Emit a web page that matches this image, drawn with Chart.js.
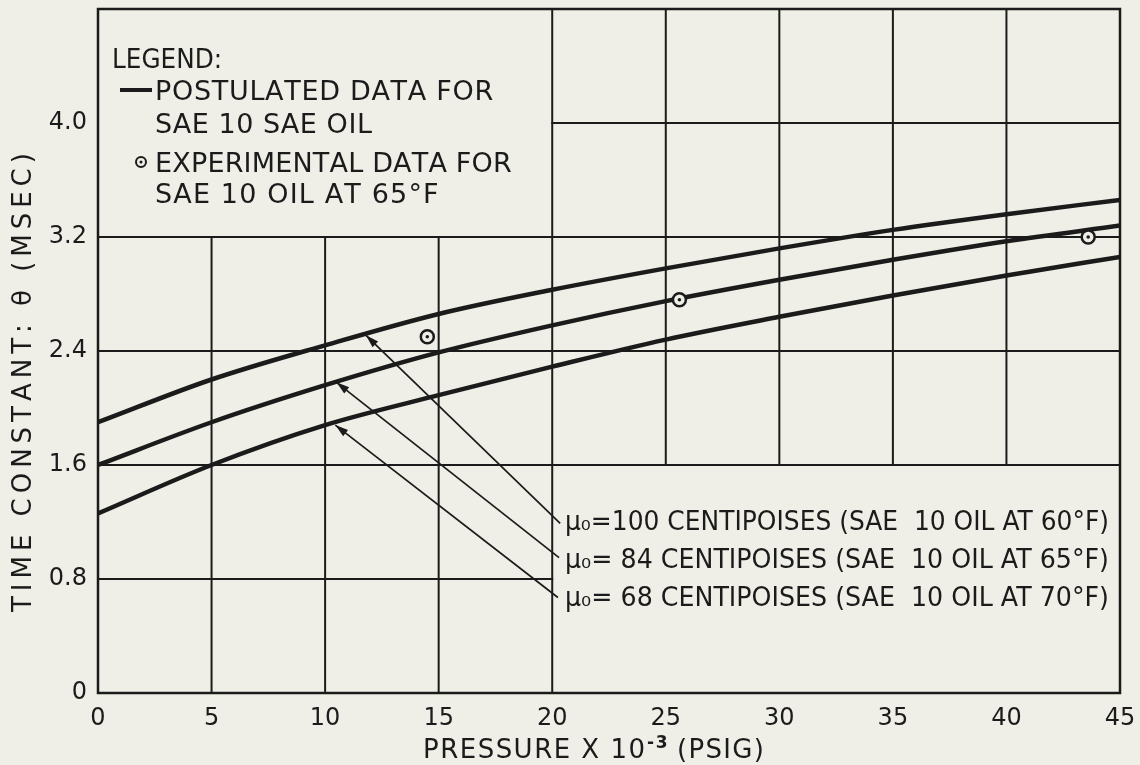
<!DOCTYPE html>
<html>
<head>
<meta charset="utf-8">
<script src="https://cdn.jsdelivr.net/npm/chart.js@4.4.1/dist/chart.umd.min.js"></script>
<style>
  html, body { margin: 0; padding: 0; background: #efefe8; }
  #c { display: block; }
</style>
</head>
<body>
<canvas id="c" width="1140" height="765"></canvas>
<script>
// ---------------- data ----------------
const xTicks = [0, 5, 10, 15, 20, 25, 30, 35, 40, 45];
const yTicks = [0, 0.8, 1.6, 2.4, 3.2, 4.0];
const pressure = [0, 5, 10, 15, 20, 25, 30, 35, 40, 45];
const theta100 = [1.90, 2.20, 2.44, 2.66, 2.83, 2.98, 3.12, 3.25, 3.36, 3.46];
const theta84  = [1.60, 1.90, 2.16, 2.39, 2.58, 2.75, 2.90, 3.04, 3.17, 3.28];
const theta68  = [1.26, 1.60, 1.88, 2.09, 2.29, 2.48, 2.64, 2.79, 2.93, 3.06];
const expPressure = [14.5, 25.6, 43.6];
const expTheta    = [2.50, 2.76, 3.20];
const arrowTailX = [20.35, 20.3, 20.25];
const arrowTailY = [1.19, 0.95, 0.67];
const arrowTipX  = [11.8, 10.5, 10.45];
const arrowTipY  = [2.51, 2.18, 1.88];
const curveLabels = [
  "μ₀=100 CENTIPOISES (SAE  10 OIL AT 60°F)",
  "μ₀= 84 CENTIPOISES (SAE  10 OIL AT 65°F)",
  "μ₀= 68 CENTIPOISES (SAE  10 OIL AT 70°F)"
];
// grid segments in data units: [x1, y1, x2, y2]
const gridSegments = [
  [5, 0, 5, 3.2], [10, 0, 10, 3.2], [15, 0, 15, 3.2], [20, 0, 20, 4.8],
  [25, 1.6, 25, 4.8], [30, 1.6, 30, 4.8], [35, 1.6, 35, 4.8], [40, 1.6, 40, 4.8],
  [0, 0.8, 20, 0.8], [0, 1.6, 45, 1.6], [0, 2.4, 45, 2.4], [0, 3.2, 45, 3.2], [20, 4.0, 45, 4.0]
];

// ---------------- style ----------------
const INK = '#1b1b1b';
const PAPER = '#efefe8';
const FONT = "'DejaVu Sans', 'Noto Sans', sans-serif";

function fitText(ctx, text, left, base, targetW) {
  const natural = ctx.measureText(text).width;
  if (natural >= targetW) {
    ctx.save();
    ctx.translate(left, base);
    ctx.scale(targetW / natural, 1);
    ctx.fillText(text, 0, 0);
    ctx.restore();
  } else {
    const chars = Array.from(text);
    const extra = (targetW - natural) / Math.max(1, chars.length - 1);
    let x = left;
    for (const ch of chars) {
      ctx.fillText(ch, x, base);
      x += ctx.measureText(ch).width + extra;
    }
  }
}

const paperPlugin = {
  id: 'paper',
  beforeDraw(chart) {
    const c = chart.ctx;
    c.save();
    c.fillStyle = PAPER;
    c.fillRect(0, 0, chart.width, chart.height);
    c.restore();
  }
};

const gridPlugin = {
  id: 'partialGrid',
  beforeDatasetsDraw(chart) {
    const c = chart.ctx, xs = chart.scales.x, ys = chart.scales.y;
    c.save();
    c.strokeStyle = INK;
    c.lineWidth = 2;
    c.lineCap = 'square';
    for (const s of gridSegments) {
      c.beginPath();
      c.moveTo(xs.getPixelForValue(s[0]), ys.getPixelForValue(s[1]));
      c.lineTo(xs.getPixelForValue(s[2]), ys.getPixelForValue(s[3]));
      c.stroke();
    }
    c.lineWidth = 2.5;
    const l = xs.getPixelForValue(0), r = xs.getPixelForValue(45);
    const t = ys.getPixelForValue(4.8), b = ys.getPixelForValue(0);
    c.strokeRect(l, t, r - l, b - t);
    c.restore();
  }
};

const annotPlugin = {
  id: 'annot',
  afterDatasetsDraw(chart) {
    const c = chart.ctx;
    c.save();
    c.fillStyle = INK;
    chart.data.datasets.forEach((ds, i) => {
      if (!ds.isArrow) return;
      const pts = chart.getDatasetMeta(i).data;
      const p0 = pts[0], p1 = pts[1];
      const ang = Math.atan2(p1.y - p0.y, p1.x - p0.x);
      const L = 13, W = 4;
      c.beginPath();
      c.moveTo(p1.x, p1.y);
      c.lineTo(p1.x - L * Math.cos(ang) + W * Math.sin(ang), p1.y - L * Math.sin(ang) - W * Math.cos(ang));
      c.lineTo(p1.x - L * Math.cos(ang) - W * Math.sin(ang), p1.y - L * Math.sin(ang) + W * Math.cos(ang));
      c.closePath();
      c.fill();
    });
    c.restore();
  },
  afterDraw(chart) {
    const c = chart.ctx;
    c.save();
    c.fillStyle = INK;
    c.strokeStyle = INK;
    c.textBaseline = 'alphabetic';
    c.textAlign = 'left';
    const cap = 0.729;
    let fs = 27;
    c.font = fs + 'px ' + FONT;
    const lg = [
      ['LEGEND:', 112, 58, 110],
      ['POSTULATED DATA FOR', 155, 90, 332],
      ['SAE 10 SAE OIL', 155, 123, 218],
      ['EXPERIMENTAL DATA FOR', 155, 162, 350],
      ['SAE 10 OIL AT 65°F', 155, 193, 282]
    ];
    for (const [t, x, y, w] of lg) fitText(c, t, x, y + cap * fs / 2, w);
    c.lineWidth = 4;
    c.beginPath(); c.moveTo(120, 90); c.lineTo(152, 90); c.stroke();
    c.lineWidth = 2;
    c.beginPath(); c.arc(141, 162, 5, 0, Math.PI * 2); c.stroke();
    c.beginPath(); c.arc(141, 162, 1.5, 0, Math.PI * 2); c.fill();

    fs = 26;
    c.font = fs + 'px ' + FONT;
    const ly = [521, 559, 597];
    curveLabels.forEach((t, i) => fitText(c, t, 565, ly[i] + cap * fs / 2, 544));

    // x axis title with superscript
    fs = 26;
    const tb = 749 + cap * fs / 2;
    const p1 = 'PRESSURE X 10', sup = '-3', p2 = ' (PSIG)';
    c.font = fs + 'px ' + FONT;
    const w1 = c.measureText(p1).width, w3 = c.measureText(p2).width;
    c.font = 'bold 17px ' + FONT;
    const w2 = c.measureText(sup).width;
    const total = 341, gap = 2;
    const scale = total / (w1 + w2 + w3 + gap);
    let x = 423;
    c.font = fs + 'px ' + FONT;
    fitText(c, p1, x, tb, w1 * scale); x += w1 * scale + gap;
    c.font = 'bold 17px ' + FONT;
    fitText(c, sup, x, tb - 10, w2 * scale); x += w2 * scale;
    c.font = fs + 'px ' + FONT;
    fitText(c, p2, x, tb, w3 * scale);

    // y axis title (rotated)
    fs = 26;
    c.font = fs + 'px ' + FONT;
    c.translate(22, 385);
    c.rotate(-Math.PI / 2);
    fitText(c, 'TIME CONSTANT: θ (MSEC)', -227, cap * fs / 2, 454);
    c.restore();
  }
};

const curve = (ys, label) => ({
  label,
  data: pressure.map((x, i) => ({ x, y: ys[i] })),
  showLine: true, borderColor: INK, borderWidth: 4.5, pointRadius: 0,
  cubicInterpolationMode: 'monotone', fill: false, order: 3
});
const arrows = arrowTailX.map((_, i) => ({
  label: 'arrow' + i, isArrow: true,
  data: [{ x: arrowTailX[i], y: arrowTailY[i] }, { x: arrowTipX[i], y: arrowTipY[i] }],
  showLine: true, borderColor: INK, borderWidth: 1.7, pointRadius: 0, tension: 0, order: 2
}));

new Chart(document.getElementById('c'), {
  type: 'scatter',
  data: {
    datasets: [
      curve(theta100, 'μ0 = 100 cP'),
      curve(theta84, 'μ0 = 84 cP'),
      curve(theta68, 'μ0 = 68 cP'),
      ...arrows,
      {
        label: 'Experimental', data: expPressure.map((x, i) => ({ x, y: expTheta[i] })),
        showLine: false, pointRadius: 6.5, pointBorderWidth: 2.5, pointBackgroundColor: PAPER,
        pointBorderColor: INK, order: 1
      },
      {
        label: 'ExperimentalDot', data: expPressure.map((x, i) => ({ x, y: expTheta[i] })),
        showLine: false, pointRadius: 1.8, pointBorderWidth: 0, pointBackgroundColor: INK, order: 0
      }
    ]
  },
  options: {
    responsive: false, animation: false, devicePixelRatio: 1,
    layout: { padding: { left: 0, right: 20, top: 8, bottom: 0 } },
    plugins: { legend: { display: false }, tooltip: { enabled: false } },
    scales: {
      x: {
        type: 'linear', min: 0, max: 45,
        afterBuildTicks: s => { s.ticks = xTicks.map(v => ({ value: v })); },
        afterFit: s => { s.height = 72; s.paddingLeft = 0; s.paddingRight = 0; },
        grid: { display: false, drawTicks: false }, border: { display: false },
        ticks: { color: INK, font: { family: FONT, size: 24 }, padding: 11, maxRotation: 0, autoSkip: false,
                 callback: v => String(v) }
      },
      y: {
        type: 'linear', min: 0, max: 4.8,
        afterBuildTicks: s => { s.ticks = yTicks.map(v => ({ value: v })); },
        afterFit: s => { s.width = 98; s.paddingTop = 0; s.paddingBottom = 0; },
        grid: { display: false, drawTicks: false }, border: { display: false },
        ticks: { color: INK, font: { family: FONT, size: 24 }, padding: 11, autoSkip: false,
                 callback: v => (v === 0 ? '0' : Number(v).toFixed(1)) }
      }
    }
  },
  plugins: [paperPlugin, gridPlugin, annotPlugin]
});
</script>
</body>
</html>
